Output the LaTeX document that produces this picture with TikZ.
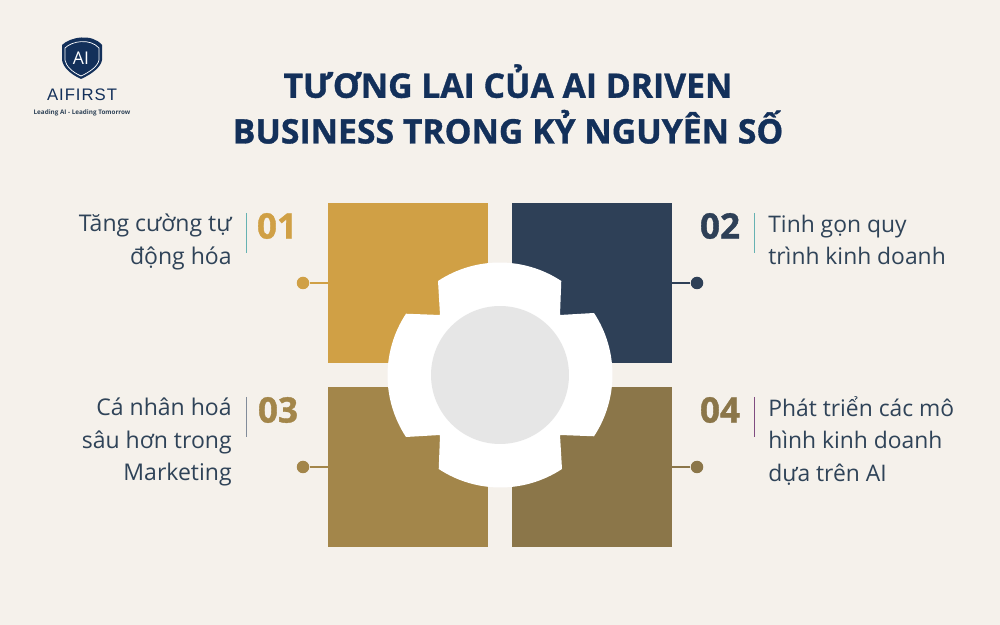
\documentclass[tikz,border=0pt]{standalone}
\usepackage{fontspec}
\setmainfont{Open Sans}
\newfontfamily\titlefont[BoldFeatures={FakeBold=1}]{Open Sans}
\newfontfamily\logofont[LetterSpace=6]{Liberation Sans}
\usetikzlibrary{shapes,arrows}

\definecolor{paper}{HTML}{F5F1EB}
\definecolor{navy}{HTML}{13305A}
\definecolor{inktext}{HTML}{2F4358}
\definecolor{gold}{HTML}{D0A045}
\definecolor{slate}{HTML}{2E4057}
\definecolor{bronze}{HTML}{A3864A}
\definecolor{umber}{HTML}{8B7649}
\definecolor{hubgrey}{HTML}{E6E6E6}

\tikzset{
  tile/.style={minimum size=3.2cm,inner sep=0pt,fill=#1},
  pin/.style={circle,minimum size=0.25cm,inner sep=0pt,fill=#1},
  stem/.style={line width=1.6pt,draw=#1},
  rule/.style={line width=0.5pt,draw=#1},
  num/.style={font=\titlefont\fontsize{20}{20}\selectfont\bfseries,text=#1},
  lefttext/.style={font=\fontsize{13.1}{18.7}\selectfont,text=inktext,align=right,anchor=east,inner sep=0pt},
  righttext/.style={font=\fontsize{13}{18.7}\selectfont,text=inktext,align=left,anchor=west,inner sep=0pt},
}

\begin{document}
\begin{tikzpicture}[x=0.02cm,y=0.02cm]
      \fill[paper] (0,0) rectangle (1000,625);
      \useasboundingbox (0,0) rectangle (1000,625);

      % logo
      \fill[navy] (62,580) .. controls (70,588) and (92,592) .. (102,580)
        -- (102,565) .. controls (101,558) and (92,551) .. (81,546)
        .. controls (70,551) and (63,558) .. (62,565) -- cycle;
      \draw[white,line width=0.4pt] (65,577) .. controls (72,584) and (90,587) .. (99,577)
        -- (99,565) .. controls (98,559) and (90,553) .. (81,549)
        .. controls (72,553) and (66,559) .. (65,565) -- cycle;
      \node[text=white,font=\fontsize{10}{10}\selectfont] (shield) at (81,567) {AI};
      \node[text=navy,font=\logofont\fontsize{9.5}{9.5}\selectfont] (brand) at (82,530) {AIFIRST};
      \node[text=inktext,font=\fontsize{3.6}{3.6}\selectfont\bfseries] (motto) at (82,512) {Leading AI - Leading Tomorrow};

      % title
      \node[text=navy,align=center,font=\titlefont\fontsize{19.2}{26}\selectfont\bfseries] (title) at (508,521)
        {TƯƠNG LAI CỦA AI DRIVEN\\BUSINESS TRONG KỶ NGUYÊN SỐ};

      % tiles
      \node[tile=gold] (t1) at (408,342) {};
      \node[tile=slate] (t2) at (592,342) {};
      \node[tile=bronze] (t3) at (408,158) {};
      \node[tile=umber] (t4) at (592,158) {};

      % hub
      \fill[white] (438,344) arc[start angle=123.4,end angle=56.6,radius=2.24cm]
        -- (560,310) -- (594,312) arc[start angle=33.4,end angle=-33.4,radius=2.24cm]
        -- (560,190) -- (562,156) arc[start angle=-56.6,end angle=-123.4,radius=2.24cm]
        -- (440,190) -- (406,188) arc[start angle=-146.6,end angle=-213.4,radius=2.24cm]
        -- (440,310) -- cycle;
      \node[circle,fill=hubgrey,minimum size=2.76cm,inner sep=0pt] (hub) at (500,250) {};

      % pins
      \node[pin=gold] (p1) at (303,342) {};
      \node[pin=slate] (p2) at (697,342) {};
      \node[pin=bronze] (p3) at (303,158) {};
      \node[pin=umber] (p4) at (697,158) {};
      \draw[stem=gold] (p1) -- (t1);
      \draw[stem=slate] (p2) -- (t2);
      \draw[stem=bronze] (p3) -- (t3);
      \draw[stem=umber] (p4) -- (t4);

      % numbers
      \node[num=gold] (n1) at (277,399) {01};
      \node[num=slate] (n2) at (720,399) {02};
      \node[num=bronze] (n3) at (278,215) {03};
      \node[num=umber] (n4) at (720,215) {04};

      % rules
      \coordinate (r1a) at (246,412); \coordinate (r1b) at (246,372);
      \coordinate (r2a) at (754,412); \coordinate (r2b) at (754,372);
      \coordinate (r3a) at (246,228); \coordinate (r3b) at (246,188);
      \coordinate (r4a) at (754,228); \coordinate (r4b) at (754,188);
      \draw[rule=teal!60] (r1a) -- (r1b);
      \draw[rule=teal!60] (r2a) -- (r2b);
      \draw[rule=slate!60] (r3a) -- (r3b);
      \draw[rule=violet!40!gray] (r4a) -- (r4b);

      % labels
      \node[lefttext] (l1) at (232,383) {Tăng cường tự\\động hóa};
      \node[righttext] (l2) at (768,385) {Tinh gọn quy\\trình kinh doanh};
      \node[lefttext] (l3) at (232,183) {Cá nhân hoá\\sâu hơn trong\\Marketing};
      \node[righttext] (l4) at (768,184) {Phát triển các mô\\hình kinh doanh\\dựa trên AI};
    \end{tikzpicture}
\end{document}
